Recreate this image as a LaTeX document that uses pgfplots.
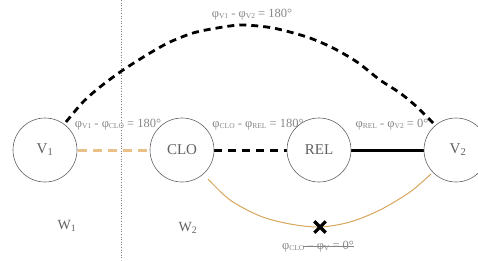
\documentclass[border=0pt]{standalone}
\usepackage{pgfplots}
\pgfplotsset{compat=1.18}
\usepackage{fontspec}
\setmainfont{Liberation Serif}
\definecolor{txtgray}{HTML}{858585}
\definecolor{circgray}{HTML}{606060}
\definecolor{orangedash}{HTML}{E8C088}
\definecolor{orangecurve}{HTML}{D8A65C}
\newcommand\sub[1]{\raisebox{-0.15ex}{\fontsize{7.5}{8}\selectfont #1}}
\newcommand\lab{\fontsize{12.5}{13}\selectfont\color{txtgray}}
\begin{document}
\begin{tikzpicture}
\begin{axis}[
  width=478pt, height=260pt, scale only axis,
  xmin=0, xmax=478, ymin=0, ymax=260, y dir=reverse,
  hide axis, clip=true, clip marker paths=true,
]
% vertical dotted divider
\addplot[gray, dotted, line width=0.6pt] coordinates {(121,0) (121,260)};
% upper dashed arc V1 -> V2
\addplot[black, line width=2.8pt, dash pattern=on 7pt off 5pt, smooth, tension=0.5] coordinates {
 (66,122) (83,102) (100,87) (123,70) (150,53) (170,42) (193,33) (217,28) (242,25) (273,28) (307,37) (333,48) (357,62) (380,80) (400,93) (417,107) (435,125)};
% orange dashed V1 -> CLO
\addplot[orangedash, line width=3pt, dash pattern=on 9pt off 6pt] coordinates {(78,150) (150,150)};
% black dashed CLO -> REL
\addplot[black, line width=3pt, dash pattern=on 8pt off 6pt] coordinates {(214,150) (287,150)};
% solid REL -> V2
\addplot[black, line width=3pt] coordinates {(351,150) (424,150)};
% lower orange curve CLO -> V2
\addplot[orangecurve, line width=1pt, smooth] coordinates {
 (208,179) (230,200) (260,216) (290,224) (320,227) (350,222) (380,210) (410,192) (431,174)};
% circles
\addplot[only marks, mark=o, mark size=32pt, mark options={draw=circgray, line width=0.6pt}] coordinates {
 (45,150) (182,150) (319,150) (456,150)};
% cross
\addplot[only marks, mark=x, mark size=8pt, mark options={draw=black, line width=3.2pt}] coordinates {(320,227)};
% strikethrough
\addplot[txtgray, line width=0.7pt] coordinates {(303,246) (354,246)};
% texts in circles
\node[circgray, font=\fontsize{15}{16}\selectfont] at (axis cs:45,150) {V\textsubscript{1}};
\node[circgray, font=\fontsize{15}{16}\selectfont] at (axis cs:182,150) {CLO};
\node[circgray, font=\fontsize{15}{16}\selectfont] at (axis cs:319,150) {REL};
\node[circgray, font=\fontsize{15}{16}\selectfont] at (axis cs:458,150) {V\textsubscript{2}};
% W labels
\node[circgray, font=\fontsize{14}{15}\selectfont] at (axis cs:67,226) {W\textsubscript{1}};
\node[circgray, font=\fontsize{14}{15}\selectfont] at (axis cs:188,228) {W\textsubscript{2}};
% phase labels
\node[inner sep=0pt] at (axis cs:252,15) {\lab φ\sub{V1} - φ\sub{V2} = 180°};
\node[inner sep=0pt] at (axis cs:118,125) {\lab φ\sub{V1} - φ\sub{CLO} = 180°};
\node[inner sep=0pt] at (axis cs:258,125) {\lab φ\sub{CLO} - φ\sub{REL} = 180°};
\node[inner sep=0pt] at (axis cs:392,125) {\lab φ\sub{REL} - φ\sub{V2} = 0°};
\node[inner sep=0pt] at (axis cs:318,247) {\lab φ\sub{CLO} – φ\sub{V} = 0°};
\end{axis}
\pgfresetboundingbox
\path (current axis.south west) rectangle (current axis.north east);
\end{tikzpicture}
\end{document}
